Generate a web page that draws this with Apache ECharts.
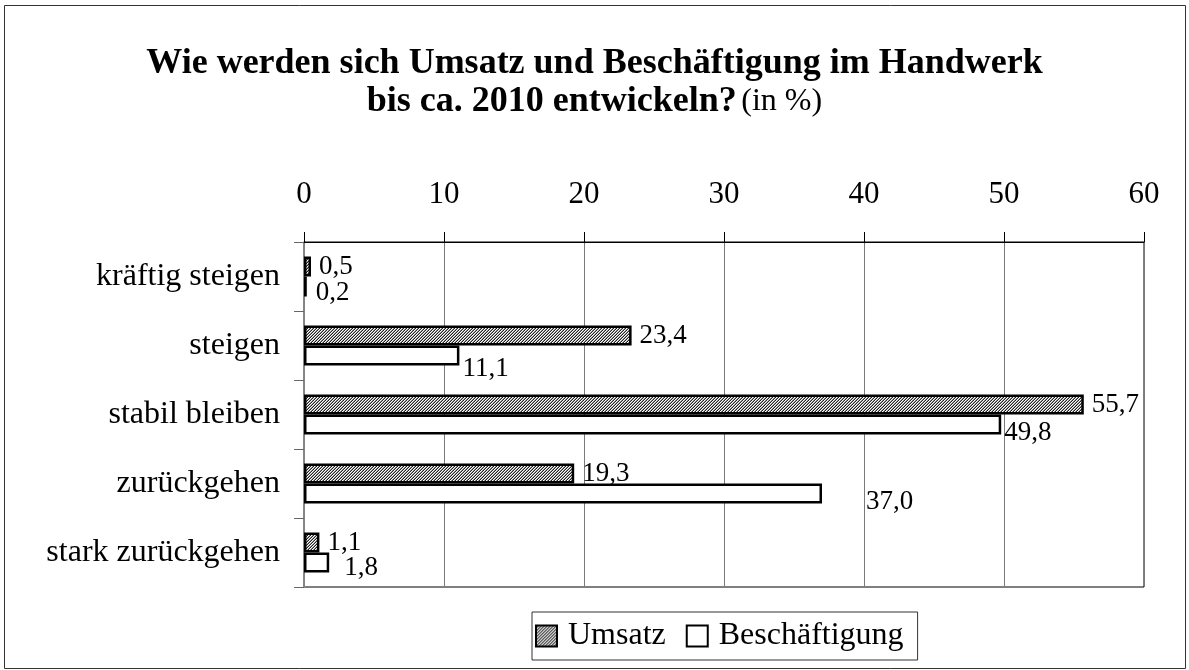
<!DOCTYPE html>
<html>
<head>
<meta charset="utf-8">
<script src="https://cdn.jsdelivr.net/npm/echarts@6/dist/echarts.min.js"></script>
<style>
html,body{margin:0;padding:0;background:#fff;}
#c{width:1189px;height:670px;}
</style>
</head>
<body>
<div id="c"></div>
<script>
// ---- data ----
const categories = ['kräftig steigen', 'steigen', 'stabil bleiben', 'zurückgehen', 'stark zurückgehen'];
const umsatz = [0.5, 23.4, 55.7, 19.3, 1.1];
const beschaeftigung = [0.2, 11.1, 49.8, 37.0, 1.8];
const seriesNames = ['Umsatz', 'Beschäftigung'];
const xTicks = [0, 10, 20, 30, 40, 50, 60];

// label offsets (styling, kept separate from data)
const beschLabelOffsets = [[6, 6], [0, 13], [0, 8], [41, 8], [12, 5]];

const FONT = '"Liberation Serif", "Times New Roman", serif';

// hatch pattern
function makeHatch() {
  const c = document.createElement('canvas');
  c.width = 3; c.height = 3;
  const ctx = c.getContext('2d');
  ctx.fillStyle = '#ffffff';
  ctx.fillRect(0, 0, 3, 3);
  for (let x = 0; x < 3; x++) {
    for (let y = 0; y < 3; y++) {
      const k = (x + y) % 3;
      if (k === 2) { ctx.fillStyle = '#222'; ctx.fillRect(x, y, 1, 1); }
      else if (k === 1) { ctx.fillStyle = '#999'; ctx.fillRect(x, y, 1, 1); }
    }
  }
  return c;
}
const hatch = { image: makeHatch(), repeat: 'repeat' };

const fmt = p => p.value.toFixed(1).replace('.', ',');

const chart = echarts.init(document.getElementById('c'), null, { renderer: 'canvas' });
chart.setOption({
  animation: false,
  backgroundColor: '#fff',
  textStyle: { fontFamily: FONT },
  graphic: [{
    type: 'rect',
    shape: { x: 4.5, y: 5.5, width: 1181, height: 663 },
    style: { fill: 'none', stroke: '#333', lineWidth: 1 },
    z: -1
  }],
  title: {
    left: 'center',
    top: 40,
    text: '{b|Wie werden sich Umsatz und Beschäftigung im Handwerk}\n{b|bis ca. 2010 entwickeln?} {n|(in %)}',
    textStyle: {
      fontFamily: FONT,
      rich: {
        b: { fontFamily: FONT, fontWeight: 'bold', fontSize: 36, color: '#000', lineHeight: 38 },
        n: { fontFamily: FONT, fontWeight: 'normal', fontSize: 32, color: '#000', lineHeight: 38 }
      }
    }
  },
  legend: {
    data: seriesNames,
    left: 532,
    top: 612,
    orient: 'horizontal',
    itemWidth: 21,
    itemHeight: 21,
    itemGap: 20,
    padding: [8, 14, 8, 3],
    borderColor: '#333',
    borderWidth: 1,
    icon: 'rect',
    textStyle: { fontFamily: FONT, fontSize: 32, color: '#000', padding: [0, 0, 0, 6] }
  },
  grid: {
    left: 304, right: 45, top: 242, bottom: 83,
    show: true, borderColor: '#000', borderWidth: 1, containLabel: false
  },
  xAxis: {
    type: 'value',
    position: 'top',
    min: xTicks[0], max: xTicks[xTicks.length - 1], interval: 10,
    axisLine: { show: true, lineStyle: { color: '#000', width: 1 } },
    axisTick: { show: true, length: 10, lineStyle: { color: '#000' } },
    axisLabel: { fontFamily: FONT, fontSize: 31, color: '#000', margin: 32 },
    splitLine: { show: true, lineStyle: { color: '#7a7a7a', width: 1 } }
  },
  yAxis: {
    type: 'category',
    inverse: true,
    data: categories,
    axisLine: { show: true, lineStyle: { color: '#888', width: 1.5 } },
    axisTick: { show: true, length: 10, lineStyle: { color: '#666' } },
    axisLabel: { fontFamily: FONT, fontSize: 32, color: '#000', margin: 24 }
  },
  series: [
    {
      name: seriesNames[0],
      type: 'bar',
      data: umsatz,
      barWidth: 20,
      barGap: '0%',
      itemStyle: { color: hatch, borderColor: '#000', borderWidth: 2.5 },
      label: {
        show: true, position: 'right', distance: 8,
        fontFamily: FONT, fontSize: 27, color: '#000', formatter: fmt
      }
    },
    {
      name: seriesNames[1],
      type: 'bar',
      data: beschaeftigung.map((v, i) => ({ value: v, label: { offset: beschLabelOffsets[i] } })),
      barWidth: 20,
      itemStyle: { color: '#fff', borderColor: '#000', borderWidth: 2.5 },
      label: {
        show: true, position: 'right', distance: 3,
        fontFamily: FONT, fontSize: 27, color: '#000', formatter: fmt
      }
    }
  ]
});
</script>
</body>
</html>
